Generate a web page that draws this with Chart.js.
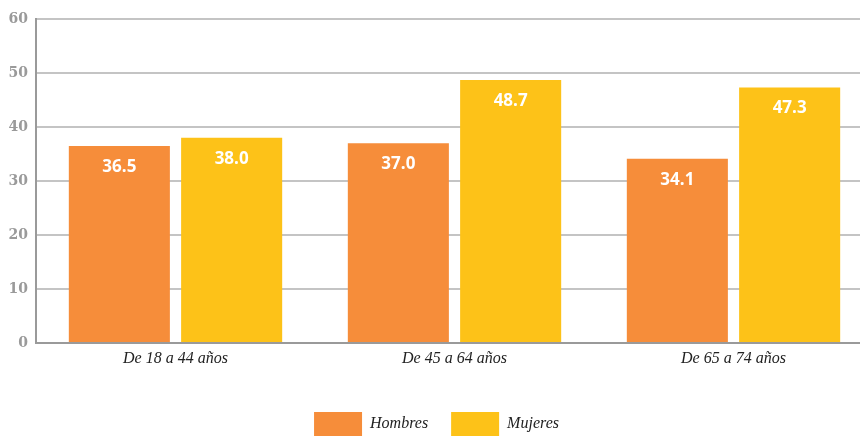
<!DOCTYPE html>
<html>
<head>
<meta charset="utf-8">
<script src="https://cdn.jsdelivr.net/npm/chart.js@4"></script>
<style>
  html, body { margin: 0; padding: 0; background: #fff; }
  #wrap { width: 860px; height: 441px; overflow: hidden; position: relative; }
  #box { width: 873px; height: 441px; }
</style>
</head>
<body>
<div id="wrap"><div id="box"><canvas id="chart"></canvas></div></div>
<script>
const categories = ['De 18 a 44 años', 'De 45 a 64 años', 'De 65 a 74 años'];
const hombres = [36.5, 37.0, 34.1];
const mujeres = [38.0, 48.7, 47.3];
const yTicks = [0, 10, 20, 30, 40, 50, 60];

// white value labels inside the top of each bar
const valueLabels = {
    id: 'valueLabels',
    afterDatasetsDraw(chart) {
        const ctx = chart.ctx;
        ctx.save();
        ctx.fillStyle = '#fff';
        ctx.font = 'bold 17px "Open Sans", sans-serif';
        ctx.textAlign = 'center';
        ctx.textBaseline = 'middle';
        chart.data.datasets.forEach(function (ds, i) {
            chart.getDatasetMeta(i).data.forEach(function (bar, j) {
                ctx.fillText(ds.data[j].toFixed(1), bar.x, bar.y + 21);
            });
        });
        ctx.restore();
    }
};

new Chart(document.getElementById('chart'), {
    type: 'bar',
    data: {
        labels: categories,
        datasets: [
            { label: 'Hombres', data: hombres, backgroundColor: '#F68D3A' },
            { label: 'Mujeres', data: mujeres, backgroundColor: '#FDC218' }
        ]
    },
    options: {
        responsive: true,
        maintainAspectRatio: false,
        animation: false,
        layout: { padding: { top: 19, right: 0, bottom: -5, left: 0 } },
        datasets: { bar: { categoryPercentage: 0.805, barPercentage: 0.9 } },
        plugins: {
            tooltip: { enabled: false },
            legend: {
                position: 'bottom',
                labels: {
                    boxWidth: 48,
                    boxHeight: 24,
                    padding: 23,
                    color: '#222',
                    font: { family: '"Liberation Serif", serif', style: 'italic', size: 16 }
                }
            }
        },
        scales: {
            x: {
                grid: { display: false, drawTicks: false },
                border: { color: '#9a9a9a', width: 2 },
                ticks: {
                    color: '#222',
                    padding: 6,
                    font: { family: '"Liberation Serif", serif', style: 'italic', size: 16 }
                },
                afterFit(scale) { scale.height = 46; }
            },
            y: {
                min: 0,
                max: 60,
                afterBuildTicks(scale) { scale.ticks = yTicks.map(v => ({ value: v })); },
                grid: { color: '#c4c4c4', lineWidth: 2, drawTicks: false },
                border: { color: '#9a9a9a', width: 2 },
                ticks: {
                    color: '#9a9a9a',
                    padding: 8,
                    font: { family: '"DejaVu Serif", serif', weight: 'bold', size: 14 }
                },
                afterFit(scale) { scale.width = 36; }
            }
        }
    },
    plugins: [valueLabels]
});
</script>
</body>
</html>
